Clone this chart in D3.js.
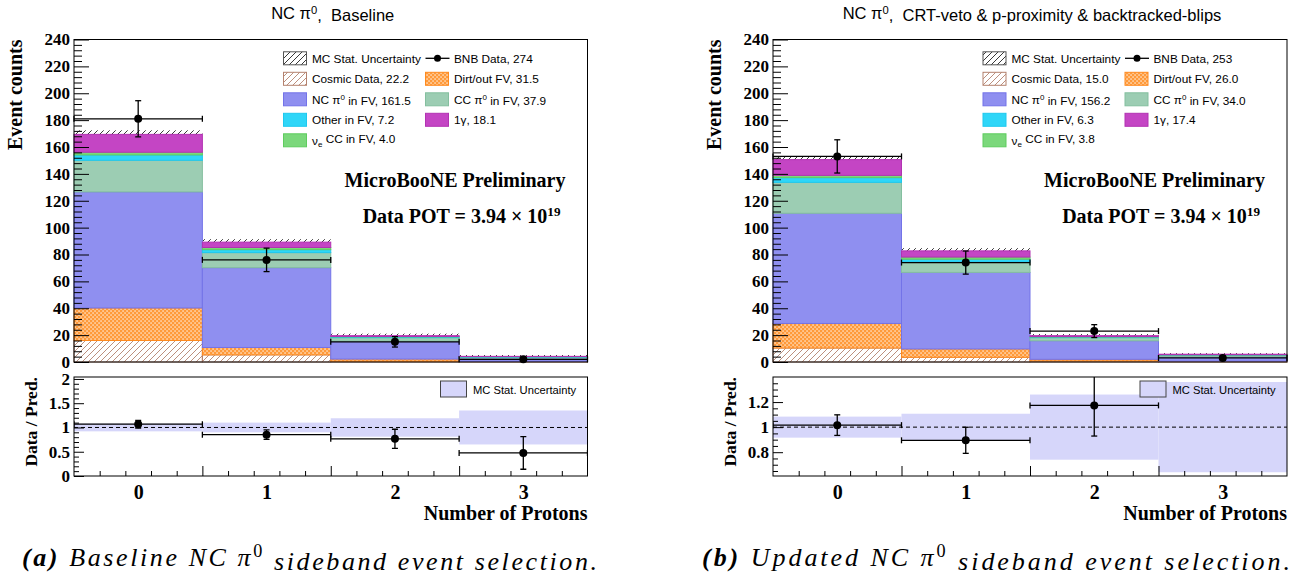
<!DOCTYPE html>
<html>
<head>
<meta charset="utf-8">
<script src="https://cdn.jsdelivr.net/npm/d3@7"></script>
<style>
  body { margin: 0; background: #fff; }
  svg { display: block; }
  text { white-space: pre; }
</style>
</head>
<body>
<svg id="fig" width="1306" height="579"></svg>
<script>
// Bins: reconstructed number of protons
const bins = [0, 1, 2, 3];
const binLabels = ["0", "1", "2", "3"];

// (a) Baseline NC pi0 sideband selection, events per bin
const cosmicA   = [16.0, 5.3, 0.6, 0.3];
const dirtA     = [24.2, 5.5, 1.6, 0.2];
const ncpi0A    = [86.4, 59.4, 13.3, 2.4];
const ccpi0A    = [23.5, 11.2, 2.6, 0.6];
const otherA    = [4.0, 2.2, 0.6, 0.4];
const nueccA    = [2.0, 1.6, 0.3, 0.1];
const oneGammaA = [13.3, 4.0, 0.6, 0.2];
const dataA     = [181, 76, 15, 2];
const mcStatA   = [3.0, 2.2, 1.5, 1.0];       // absolute MC stat. error on the stack
const ratioBandA = [0.08, 0.10, 0.19, 0.35];  // relative MC stat. error in the ratio

// (b) Updated selection: CRT-veto & p-proximity & backtracked-blips
const cosmicB   = [10.4, 3.5, 0.8, 0.3];
const dirtB     = [18.3, 6.2, 1.2, 0.3];
const ncpi0B    = [82.0, 57.0, 13.8, 3.4];
const ccpi0B    = [23.0, 7.8, 2.3, 0.9];
const otherB    = [3.5, 2.0, 0.5, 0.3];
const nueccB    = [1.7, 1.6, 0.3, 0.2];
const oneGammaB = [11.7, 4.6, 0.7, 0.4];
const dataB     = [153, 74, 23, 3];
const mcStatB   = [2.4, 2.0, 1.2, 0.8];
const ratioBandB = [0.084, 0.107, 0.26, 0.36];

// Axis ticks
const countTicks = [0, 20, 40, 60, 80, 100, 120, 140, 160, 180, 200, 220, 240];
const ratioTicksA = [0, 0.5, 1, 1.5, 2];
const ratioTicksB = [0.8, 1, 1.2];

// ---------------------------------------------------------------------------
const svg = d3.select("#fig");
const defs = svg.append("defs");
const SERIF = "'Liberation Serif','Times New Roman',serif";
const SANS = "'Liberation Sans',Arial,Helvetica,sans-serif";
const CAPTION_FONT = "'Liberation Serif','Times New Roman',serif";

function hatchPattern(id, color) {
  const p = defs.append("pattern").attr("id", id)
    .attr("patternUnits", "userSpaceOnUse").attr("width", 6).attr("height", 6);
  p.append("path").attr("d", "M-1,1 L1,-1 M0,6 L6,0 M5,7 L7,5")
    .attr("stroke", color).attr("stroke-width", 0.9).attr("fill", "none");
}
hatchPattern("hatch-mc", "#222");
hatchPattern("hatch-cosmic", "#b4826e");
{
  const p = defs.append("pattern").attr("id", "cross-dirt")
    .attr("patternUnits", "userSpaceOnUse").attr("width", 4).attr("height", 4);
  p.append("rect").attr("width", 4).attr("height", 4).attr("fill", "#ff9a3a");
  p.append("rect").attr("x", 0.4).attr("y", 0.4).attr("width", 1.3).attr("height", 1.3).attr("fill", "#fff6ec");
  p.append("rect").attr("x", 2.4).attr("y", 2.4).attr("width", 1.3).attr("height", 1.3).attr("fill", "#fff6ec");
}

const layerKeys = ["cosmic", "dirt", "ncpi0", "ccpi0", "other", "nuecc", "oneGamma"];
const layerStyle = {
  cosmic:   { fill: "url(#hatch-cosmic)", stroke: "#b4826e" },
  dirt:     { fill: "url(#cross-dirt)",   stroke: "#ff8a1e" },
  ncpi0:    { fill: "#8f8ff0",            stroke: "#7373e8" },
  ccpi0:    { fill: "#9ccdb3",            stroke: "#84bf9f" },
  other:    { fill: "#2fd6f8",            stroke: "#1ec8ee" },
  nuecc:    { fill: "#7bd87b",            stroke: "#5fcc5f" },
  oneGamma: { fill: "#c445c4",            stroke: "#b232b2" }
};

const MAIN_TOP = 39.5, MAIN_BOTTOM = 362;
const RATIO_TOP = 377, RATIO_BOTTOM = 476;

function sup(textSel, base, supText, rest, sizeRatio) {
  textSel.append("tspan").text(base);
  textSel.append("tspan").attr("dy", "-0.45em").attr("font-size", (sizeRatio || 0.68) + "em").text(supText);
  textSel.append("tspan").attr("dy", "0.45em").text(rest);
}

function errorPoint(g, cx, cy, x0, x1, yLo, yHi, clip) {
  const grp = g.append("g");
  if (clip) grp.attr("clip-path", clip);
  const line = (a, b, c, d) => grp.append("line").attr("x1", a).attr("y1", b).attr("x2", c).attr("y2", d)
    .attr("stroke", "#000").attr("stroke-width", 1.3);
  line(x0, cy, x1, cy);
  line(x0, cy - 3, x0, cy + 3);
  line(x1, cy - 3, x1, cy + 3);
  line(cx, yLo, cx, yHi);
  line(cx - 3, yLo, cx + 3, yLo);
  line(cx - 3, yHi, cx + 3, yHi);
  grp.append("circle").attr("cx", cx).attr("cy", cy).attr("r", 4).attr("fill", "#000");
}

function yAxis(g, scale, x0, major, minor, majLen, minLen, fontSize) {
  g.append("g").attr("transform", `translate(${x0},0)`)
    .call(d3.axisLeft(scale).tickValues(minor).tickSize(-minLen).tickFormat(""))
    .call(a => a.select(".domain").remove())
    .call(a => a.selectAll("line").attr("stroke", "#000"));
  g.append("g").attr("transform", `translate(${x0},0)`)
    .call(d3.axisLeft(scale).tickValues(major).tickSize(-majLen).tickPadding(4).tickFormat(d3.format("")))
    .call(a => a.select(".domain").remove())
    .call(a => a.selectAll("line").attr("stroke", "#000"))
    .call(a => a.selectAll("text").attr("font-family", SERIF).attr("font-weight", "bold")
      .attr("font-size", fontSize).attr("fill", "#000"));
}

function drawPanel(cfg, clipId) {
  const g = svg.append("g");
  const x = d3.scaleLinear().domain([-0.5, 3.5]).range([cfg.x0, cfg.x1]);
  const y = d3.scaleLinear().domain([0, 240]).range([MAIN_BOTTOM, MAIN_TOP]);
  const binW = x(0.5) - x(-0.5);

  const rows = bins.map((b, i) => {
    const r = { bin: b };
    layerKeys.forEach(k => { r[k] = cfg.series[k][i]; });
    return r;
  });
  const stacked = d3.stack().keys(layerKeys)(rows);
  const pred = bins.map((b, i) => d3.sum(layerKeys, k => cfg.series[k][i]));

  // MC stat. band (upper half shows above the stack)
  g.append("g").selectAll("rect").data(bins).join("rect")
    .attr("x", b => x(b - 0.5)).attr("width", binW)
    .attr("y", (b, i) => y(pred[i] + cfg.mcStat[i]))
    .attr("height", (b, i) => y(pred[i] - cfg.mcStat[i]) - y(pred[i] + cfg.mcStat[i]))
    .attr("fill", "url(#hatch-mc)");

  // stacked prediction
  stacked.forEach(layer => {
    const st = layerStyle[layer.key];
    g.append("g").selectAll("rect").data(layer).join("rect")
      .attr("x", d => x(d.data.bin - 0.5)).attr("width", binW)
      .attr("y", d => y(d[1])).attr("height", d => Math.max(0, y(d[0]) - y(d[1])))
      .attr("fill", st.fill).attr("stroke", st.stroke).attr("stroke-width", 1);
  });

  // data
  cfg.data.forEach((n, i) => {
    const e = Math.sqrt(n);
    errorPoint(g, x(bins[i]), y(n), x(bins[i] - 0.5), x(bins[i] + 0.5), y(n - e), y(n + e));
  });

  // frame + axes
  const minorCounts = d3.range(0, 241, 4).filter(v => v % 20 !== 0);
  yAxis(g, y, cfg.x0, countTicks, minorCounts, 15, 8, 17);
  g.append("rect").attr("x", cfg.x0).attr("y", MAIN_TOP).attr("width", cfg.x1 - cfg.x0)
    .attr("height", MAIN_BOTTOM - MAIN_TOP).attr("fill", "none").attr("stroke", "#000").attr("stroke-width", 1);

  // axis title
  g.append("text").attr("transform", `translate(${cfg.x0 - 52},${MAIN_TOP}) rotate(-90)`)
    .attr("text-anchor", "end").attr("font-family", SERIF).attr("font-weight", "bold")
    .attr("font-size", 20).text("Event counts");

  // panel title
  const t = g.append("text").attr("x", (cfg.x0 + cfg.x1) / 2 + 2).attr("y", 19)
    .attr("text-anchor", "middle").attr("font-family", SANS).attr("font-size", 16.5);
  sup(t, "NC \u03c0", "0", cfg.titleRest);

  // experiment labels
  g.append("text").attr("x", cfg.x1 - 22).attr("y", 187).attr("text-anchor", "end")
    .attr("font-family", SERIF).attr("font-weight", "bold").attr("font-size", 20)
    .text("MicroBooNE Preliminary");
  const pot = g.append("text").attr("x", cfg.x1 - 27).attr("y", 223).attr("text-anchor", "end")
    .attr("font-family", SERIF).attr("font-weight", "bold").attr("font-size", 20);
  pot.append("tspan").text("Data POT = 3.94 \u00d7 10");
  pot.append("tspan").attr("dy", "-0.5em").attr("font-size", "0.66em").text("19");

  // legend
  const lx = cfg.x1 - 304, rowY = i => 58.3 + i * 20.5;
  const legFont = 11.8;
  const col1 = [
    { fill: "url(#hatch-mc)", stroke: "#555", label: s => s.append("tspan").text("MC Stat. Uncertainty") },
    { key: "cosmic", label: s => s.append("tspan").text("Cosmic Data, " + d3.sum(cfg.series.cosmic).toFixed(1)) },
    { key: "ncpi0", label: s => sup(s, "NC \u03c0", "0", " in FV, " + d3.sum(cfg.series.ncpi0).toFixed(1)) },
    { key: "other", label: s => s.append("tspan").text("Other in FV, " + d3.sum(cfg.series.other).toFixed(1)) },
    { key: "nuecc", label: s => {
        s.append("tspan").text("\u03bd");
        s.append("tspan").attr("dy", "0.3em").attr("font-size", "0.68em").text("e");
        s.append("tspan").attr("dy", "-0.3em").text(" CC in FV, " + d3.sum(cfg.series.nuecc).toFixed(1));
      } }
  ];
  const col2 = [
    null,
    { key: "dirt", label: s => s.append("tspan").text("Dirt/out FV, " + d3.sum(cfg.series.dirt).toFixed(1)) },
    { key: "ccpi0", label: s => sup(s, "CC \u03c0", "0", " in FV, " + d3.sum(cfg.series.ccpi0).toFixed(1)) },
    { key: "oneGamma", label: s => s.append("tspan").text("1\u03b3, " + d3.sum(cfg.series.oneGamma).toFixed(1)) }
  ];
  const leg = g.append("g");
  function entry(e, i, sx) {
    const st = e.key ? layerStyle[e.key] : e;
    leg.append("rect").attr("x", sx).attr("y", rowY(i) - 6.5).attr("width", 23).attr("height", 13)
      .attr("fill", st.fill).attr("stroke", st.stroke).attr("stroke-width", 1);
    const tx = leg.append("text").attr("x", sx + 28.5).attr("y", rowY(i) + 4.2)
      .attr("font-family", SANS).attr("font-size", legFont);
    e.label(tx);
  }
  col1.forEach((e, i) => entry(e, i, lx));
  col2.forEach((e, i) => { if (e) entry(e, i, lx + 142); });
  // data entry
  const dx = lx + 142;
  leg.append("line").attr("x1", dx).attr("x2", dx + 24).attr("y1", rowY(0)).attr("y2", rowY(0))
    .attr("stroke", "#000").attr("stroke-width", 1.3);
  leg.append("circle").attr("cx", dx + 12).attr("cy", rowY(0)).attr("r", 3.5).attr("fill", "#000");
  leg.append("text").attr("x", dx + 28.5).attr("y", rowY(0) + 4.2).attr("font-family", SANS)
    .attr("font-size", legFont).text("BNB Data, " + d3.sum(cfg.data));

  // ----------------------------- ratio panel -----------------------------
  const yr = d3.scaleLinear().domain(cfg.ratioDomain).range([RATIO_BOTTOM, RATIO_TOP]);
  defs.append("clipPath").attr("id", clipId).append("rect")
    .attr("x", cfg.x0).attr("y", RATIO_TOP).attr("width", cfg.x1 - cfg.x0).attr("height", RATIO_BOTTOM - RATIO_TOP);
  const rg = g.append("g");
  const clipped = rg.append("g").attr("clip-path", `url(#${clipId})`);
  clipped.selectAll("rect").data(bins).join("rect")
    .attr("x", b => x(b - 0.5)).attr("width", binW)
    .attr("y", (b, i) => yr(1 + cfg.ratioBand[i]))
    .attr("height", (b, i) => yr(1 - cfg.ratioBand[i]) - yr(1 + cfg.ratioBand[i]))
    .attr("fill", "#d6d6fa");
  rg.append("line").attr("x1", cfg.x0).attr("x2", cfg.x1).attr("y1", yr(1)).attr("y2", yr(1))
    .attr("stroke", "#000").attr("stroke-width", 1).attr("stroke-dasharray", "4,3");

  cfg.data.forEach((n, i) => {
    const r = n / pred[i], e = Math.sqrt(n) / pred[i];
    if (r < cfg.ratioDomain[0] || r > cfg.ratioDomain[1]) return;
    errorPoint(rg, x(bins[i]), yr(r), x(bins[i] - 0.5), x(bins[i] + 0.5), yr(r - e), yr(r + e), `url(#${clipId})`);
  });

  // ratio legend
  rg.append("rect").attr("x", cfg.x1 - 147).attr("y", 381).attr("width", 26).attr("height", 16)
    .attr("fill", "#d6d6fa").attr("stroke", "#444").attr("stroke-width", 1);
  rg.append("text").attr("x", cfg.x1 - 114.5).attr("y", 393.5).attr("font-family", SANS)
    .attr("font-size", 11.2).text("MC Stat. Uncertainty");

  // ratio y axis
  yAxis(rg, yr, cfg.x0, cfg.ratioTicks, cfg.ratioMinor, 10, 5, 17);
  rg.append("text").attr("transform", `translate(${cfg.x0 - 37},${RATIO_TOP}) rotate(-90)`)
    .attr("text-anchor", "end").attr("font-family", SERIF).attr("font-weight", "bold")
    .attr("font-size", 17.5).text("Data / Pred.");

  // ratio x axis: ticks every 0.2, longer at bin edges
  const xt = d3.range(1, 20).map(i => ({ v: -0.5 + i * 0.2, major: i % 5 === 0 }));
  rg.append("g").attr("transform", `translate(0,${RATIO_BOTTOM})`)
    .call(d3.axisBottom(x).tickValues(xt.filter(t => !t.major).map(t => t.v)).tickSize(-5).tickFormat(""))
    .call(a => a.select(".domain").remove());
  rg.append("g").attr("transform", `translate(0,${RATIO_BOTTOM})`)
    .call(d3.axisBottom(x).tickValues(xt.filter(t => t.major).map(t => t.v)).tickSize(-10).tickFormat(""))
    .call(a => a.select(".domain").remove());
  rg.append("g").attr("transform", `translate(0,${RATIO_BOTTOM})`)
    .call(d3.axisBottom(x).tickValues(bins).tickSize(0).tickPadding(9).tickFormat((d, i) => binLabels[i]))
    .call(a => a.select(".domain").remove())
    .call(a => a.selectAll("text").attr("font-family", SERIF).attr("font-weight", "bold")
      .attr("font-size", 20).attr("fill", "#000"));
  rg.selectAll(".tick line").attr("stroke", "#000");

  rg.append("rect").attr("x", cfg.x0).attr("y", RATIO_TOP).attr("width", cfg.x1 - cfg.x0)
    .attr("height", RATIO_BOTTOM - RATIO_TOP).attr("fill", "none").attr("stroke", "#000").attr("stroke-width", 1);
  rg.append("text").attr("x", cfg.x1).attr("y", 520).attr("text-anchor", "end")
    .attr("font-family", SERIF).attr("font-weight", "bold").attr("font-size", 20).text("Number of Protons");

  // sub-figure caption
  const cap = g.append("text").attr("x", cfg.capX).attr("y", 566)
    .attr("font-family", CAPTION_FONT).attr("font-style", "italic").attr("font-size", 26)
    .attr("textLength", cfg.capW).attr("lengthAdjust", "spacing");
  cap.append("tspan").attr("font-weight", "bold").text(cfg.capTag);
  cap.append("tspan").text(" " + cfg.capText + " NC \u03c0");
  cap.append("tspan").attr("dy", "-0.5em").attr("font-size", "0.7em").attr("font-style", "normal").text("0");
  cap.append("tspan").attr("dy", "0.5em").text(" sideband event selection.");
}

drawPanel({
  x0: 74, x1: 587.5,
  titleRest: ",  Baseline",
  series: { cosmic: cosmicA, dirt: dirtA, ncpi0: ncpi0A, ccpi0: ccpi0A, other: otherA, nuecc: nueccA, oneGamma: oneGammaA },
  data: dataA, mcStat: mcStatA, ratioBand: ratioBandA,
  ratioDomain: [0, 2.04], ratioTicks: ratioTicksA,
  ratioMinor: d3.range(0, 21).map(i => i / 10).filter(v => Math.abs(v * 2 - Math.round(v * 2)) > 1e-9),
  capX: 22, capW: 575, capTag: "(a)", capText: "Baseline"
}, "clip-ratio-a");

drawPanel({
  x0: 773, x1: 1287,
  titleRest: ",  CRT-veto & p-proximity & backtracked-blips",
  series: { cosmic: cosmicB, dirt: dirtB, ncpi0: ncpi0B, ccpi0: ccpi0B, other: otherB, nuecc: nueccB, oneGamma: oneGammaB },
  data: dataB, mcStat: mcStatB, ratioBand: ratioBandB,
  ratioDomain: [0.61, 1.40], ratioTicks: ratioTicksB,
  ratioMinor: d3.range(13, 28).map(i => i * 0.05).filter(v => Math.abs(v * 5 - Math.round(v * 5)) > 1e-9),
  capX: 702, capW: 588, capTag: "(b)", capText: "Updated"
}, "clip-ratio-b");
</script>
</body>
</html>
